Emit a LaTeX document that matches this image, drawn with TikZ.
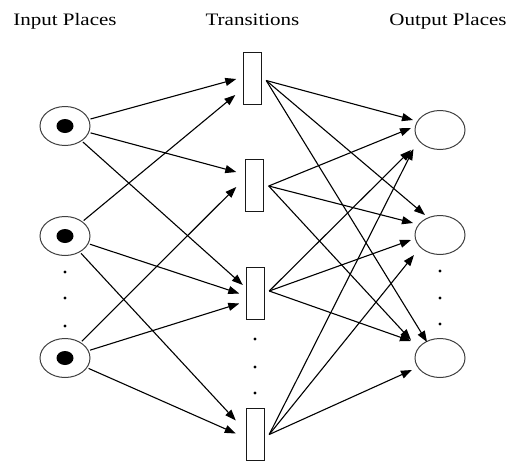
\documentclass[tikz,border=0pt]{standalone}
\usepackage{fontspec}
\setmainfont{Liberation Serif}
\usetikzlibrary{shapes.geometric,arrows.meta}
\begin{document}
\begin{tikzpicture}[x=1pt,y=-1pt,
  place/.style={ellipse,draw=black!75,line width=1pt,minimum width=50pt,minimum height=39pt,inner sep=0pt},
  trans/.style={rectangle,draw=black!90,line width=1.4pt,minimum width=18pt,minimum height=52pt,inner sep=0pt},
  arc/.style={line width=1.1pt,shorten <=1.5pt,-{Triangle[length=11pt,width=8pt]}},
  title/.style={anchor=base,inner sep=0pt,font=\fontsize{17.5}{20}\selectfont},
  vdot/.style={fill=black}]
\useasboundingbox (0,0) rectangle (509,461);
% titles
\node[title] (tin)  at (65,25)    {\scalebox{1.2}[1]{Input Places}};
\node[title] (ttr)  at (252.5,25) {\scalebox{1.2}[1]{Transitions}};
\node[title] (tout) at (448,25)   {\scalebox{1.2}[1]{Output Places}};
% input places
\node[place] (P1) at (65,126) {};
\node[place] (P2) at (65,236) {};
\node[place] (P3) at (65,358) {};
\foreach \p in {P1,P2,P3} {\fill (\p.center) ellipse [x radius=8.5pt, y radius=7pt];}
% transitions
\node[trans] (T1) at (252.5,78.5) {};
\node[trans] (T2) at (254.5,185.5) {};
\node[trans] (T3) at (255.5,293.5) {};
\node[trans] (T4) at (255.5,434.5) {};
% output places
\node[place] (O1) at (440,130) {};
\node[place] (O2) at (440,235) {};
\node[place] (O3) at (440,358) {};
% ellipsis dots
\foreach \y in {272,298,326} {\fill[vdot] (65,\y) circle [radius=1.7pt];}
\foreach \y in {339,367,393} {\fill[vdot] (255,\y) circle [radius=1.7pt];}
\foreach \y in {271,298,324} {\fill[vdot] (440,\y) circle [radius=1.7pt];}
% input arc tips
\coordinate (a11) at ([shift={(-6.5,0.5)}]T1.west);
\coordinate (a21) at ([shift={(-7.5,16.5)}]T1.west);
\coordinate (a12) at ([shift={(-8.5,-13.5)}]T2.west);
\coordinate (a32) at ([shift={(-8.5,1.5)}]T2.west);
\coordinate (a13) at ([shift={(-3,-8.5)}]T3.west);
\coordinate (a23) at ([shift={(-6.5,0)}]T3.west);
\coordinate (a33) at ([shift={(-6.5,10)}]T3.west);
\coordinate (a24) at ([shift={(-10,-14)}]T4.west);
\coordinate (a34) at ([shift={(-10,-1)}]T4.west);
\draw[arc] (P1) -- (a11);
\draw[arc] (P1) -- (a12);
\draw[arc] (P1) -- (a13);
\draw[arc] (P2) -- (a21);
\draw[arc] (P2) -- (a23);
\draw[arc] (P2) -- (a24);
\draw[arc] (P3) -- (a32);
\draw[arc] (P3) -- (a33);
\draw[arc] (P3) -- (a34);
% output arc sources
\coordinate (T1o) at ([shift={(4,2)}]T1.east);
\coordinate (T2o) at ([shift={(4.5,0.5)}]T2.east);
\coordinate (T3o) at ([shift={(4,-2.5)}]T3.east);
\coordinate (T4o) at ([shift={(4,0)}]T4.east);
% output arc tips
\coordinate (b11) at ([shift={(-1.5,-10)}]O1.west);
\coordinate (b21) at ([shift={(-3.5,-2)}]O1.west);
\coordinate (b31) at ([shift={(-3.5,20)}]O1.west);
\coordinate (b41) at ([shift={(-1,19)}]O1.west);
\coordinate (b12) at ([shift={(10.5,-20)}]O2.west);
\coordinate (b22) at ([shift={(-1.5,-12)}]O2.west);
\coordinate (b32) at ([shift={(-3.5,5)}]O2.west);
\coordinate (b42) at ([shift={(-0.5,20)}]O2.west);
\coordinate (b13) at ([shift={(12.5,-16)}]O3.west);
\coordinate (b23) at ([shift={(-3.5,-18)}]O3.west);
\coordinate (b33) at ([shift={(-3.5,-17)}]O3.west);
\coordinate (b43) at ([shift={(-2.5,12)}]O3.west);
\foreach \t in {1,2,3,4} {
  \foreach \o in {1,2,3} {
    \draw[arc,shorten <=0pt] (T\t o) -- (b\t\o);
  }
}
\end{tikzpicture}
\end{document}
